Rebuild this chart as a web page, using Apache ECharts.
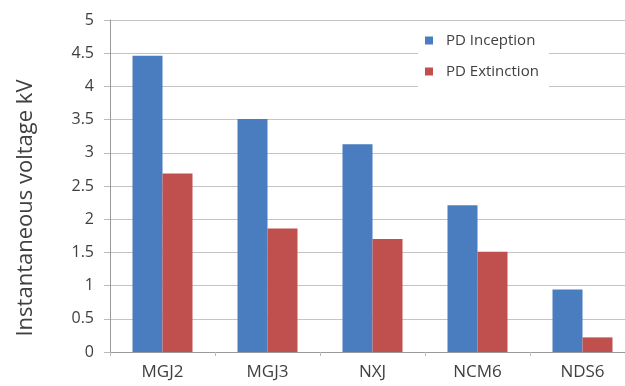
<!DOCTYPE html>
<html><head><meta charset="utf-8">
<script src="https://cdn.jsdelivr.net/npm/echarts@6/dist/echarts.min.js"></script>
<style>html,body{margin:0;padding:0;background:#fff}#c{width:625px;height:386px}</style>
</head><body><div id="c"></div>
<script>
const categories = ['MGJ2', 'MGJ3', 'NXJ', 'NCM6', 'NDS6'];
const inception = [4.46, 3.51, 3.13, 2.21, 0.94];
const extinction = [2.69, 1.86, 1.70, 1.51, 0.22];
const seriesNames = ['PD Inception', 'PD Extinction'];
const yTicks = [0, 0.5, 1, 1.5, 2, 2.5, 3, 3.5, 4, 4.5, 5];
const yTitle = 'Instantaneous voltage kV';

const FONT = 'Open Sans';
const chart = echarts.init(document.getElementById('c'), null, {renderer: 'canvas'});
chart.setOption({
  animation: false,
  backgroundColor: '#fff',
  textStyle: {fontFamily: FONT},
  grid: {left: 110, width: 525, top: 20, bottom: 34, containLabel: false, outerBoundsMode: 'none'},
  legend: {
    orient: 'vertical', left: 418, top: 25,
    itemWidth: 8, itemHeight: 8, itemGap: 16,
    backgroundColor: '#fff', padding: [8, 10, 8, 7],
    icon: 'rect',
    textStyle: {fontFamily: FONT, fontSize: 15, color: '#404040', padding: [0, 0, 0, 8]},
    data: seriesNames
  },
  xAxis: {
    type: 'category', data: categories,
    axisLine: {lineStyle: {color: '#999'}},
    axisTick: {show: true, length: 4, lineStyle: {color: '#bbb'}},
    axisLabel: {fontFamily: FONT, fontSize: 17, color: '#404040', margin: 12}
  },
  yAxis: {
    type: 'value', min: yTicks[0], max: yTicks[yTicks.length - 1], interval: 0.5,
    name: yTitle, nameLocation: 'middle', nameGap: 73, nameRotate: 90,
    nameTextStyle: {fontFamily: FONT, fontSize: 22, color: '#404040', padding: [0, 44, 0, 0]},
    axisLine: {show: true, lineStyle: {color: '#999'}},
    axisTick: {show: true, length: 6, lineStyle: {color: '#bbb'}},
    axisLabel: {fontFamily: FONT, fontSize: 16, color: '#404040', margin: 16},
    splitLine: {lineStyle: {color: '#c4c4c4', width: 1}}
  },
  series: [
    {name: seriesNames[0], type: 'bar', data: inception, barWidth: 30, barGap: '0%',
     itemStyle: {color: '#4a7dc0'}},
    {name: seriesNames[1], type: 'bar', data: extinction, barWidth: 30, barGap: '0%',
     itemStyle: {color: '#c0504d'}}
  ]
});
</script></body></html>
